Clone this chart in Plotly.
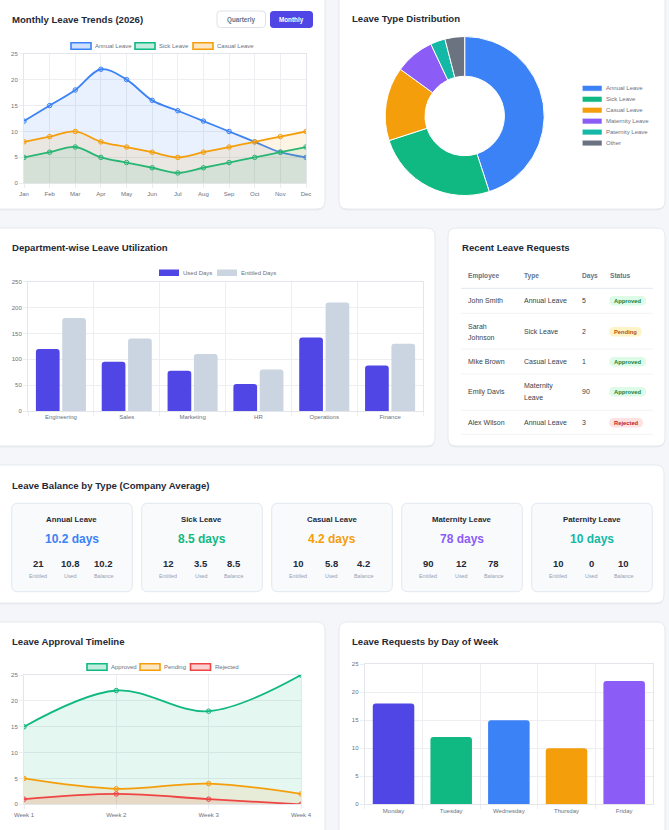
import plotly.graph_objects as go

W, H = 669, 830
FONT = "Liberation Sans, Arial, sans-serif"
TITLE_C = "#1f2937"
TICK_C = "#6b7280"
GRID_C = "#eceef1"

# ---------------- data ----------------
months = ["Jan", "Feb", "Mar", "Apr", "May", "Jun", "Jul", "Aug", "Sep", "Oct", "Nov", "Dec"]
annual_trend = [12, 15, 18, 22, 20, 16, 14, 12, 10, 8, 6, 5]
sick_trend = [5, 6, 7, 5, 4, 3, 2, 3, 4, 5, 6, 7]
casual_trend = [8, 9, 10, 8, 7, 6, 5, 6, 7, 8, 9, 10]

leave_types = ["Annual Leave", "Sick Leave", "Casual Leave", "Maternity Leave", "Paternity Leave", "Other"]
leave_share = [45, 25, 15, 8, 3, 4]
leave_colors = ["#3b82f6", "#10b981", "#f59e0b", "#8b5cf6", "#14b8a6", "#6b7280"]

departments = ["Engineering", "Sales", "Marketing", "HR", "Operations", "Finance"]
used_days = [120, 95, 78, 52, 142, 88]
entitled_days = [180, 140, 110, 80, 210, 130]

table_header = ["Employee", "Type", "Days", "Status"]
req_employee = [["John Smith"], ["Sarah", "Johnson"], ["Mike Brown"], ["Emily Davis"], ["Alex Wilson"]]
req_type = [["Annual Leave"], ["Sick Leave"], ["Casual Leave"], ["Maternity", "Leave"], ["Annual Leave"]]
req_days = ["5", "2", "1", "90", "3"]
req_status = ["Approved", "Pending", "Approved", "Approved", "Rejected"]

bal_types = ["Annual Leave", "Sick Leave", "Casual Leave", "Maternity Leave", "Paternity Leave"]
bal_entitled = ["21", "12", "10", "90", "10"]
bal_used = ["10.8", "3.5", "5.8", "12", "0"]
bal_balance = ["10.2", "8.5", "4.2", "78", "10"]
bal_colors = ["#3b82f6", "#10b981", "#f59e0b", "#8b5cf6", "#14b8a6"]

weeks = ["Week 1", "Week 2", "Week 3", "Week 4"]
approved = [15, 22, 18, 25]
pending = [5, 3, 4, 2]
rejected = [1, 2, 1, 0]

days_of_week = ["Monday", "Tuesday", "Wednesday", "Thursday", "Friday"]
day_requests = [18, 12, 15, 10, 22]
day_colors = ["#4f46e5", "#10b981", "#3b82f6", "#f59e0b", "#8b5cf6"]

# ---------------- helpers ----------------
def px(x):
    return x / W

def py(y):
    return 1 - y / H

shapes = []
annots = []

def rpath(x0, y0, x1, y1, r):
    def P(x, y):
        return f"{px(x):.5f},{py(y):.5f}"
    return (f"M {P(x0 + r, y0)} L {P(x1 - r, y0)} Q {P(x1, y0)} {P(x1, y0 + r)} "
            f"L {P(x1, y1 - r)} Q {P(x1, y1)} {P(x1 - r, y1)} L {P(x0 + r, y1)} "
            f"Q {P(x0, y1)} {P(x0, y1 - r)} L {P(x0, y0 + r)} Q {P(x0, y0)} {P(x0 + r, y0)} Z")

def rrect(x0, y0, x1, y1, r, fill, line="rgba(0,0,0,0)", lw=0, layer="below"):
    shapes.append(dict(type="path", path=rpath(x0, y0, x1, y1, r), xref="paper", yref="paper",
                       fillcolor=fill, line=dict(color=line, width=lw), layer=layer))

def rect(x0, y0, x1, y1, fill, line="rgba(0,0,0,0)", lw=0, layer="above"):
    shapes.append(dict(type="rect", xref="paper", yref="paper", x0=px(x0), x1=px(x1),
                       y0=py(y1), y1=py(y0), fillcolor=fill, line=dict(color=line, width=lw), layer=layer))

def hline(x0, x1, y, color, lw=1):
    shapes.append(dict(type="line", xref="paper", yref="paper", x0=px(x0), x1=px(x1),
                       y0=py(y), y1=py(y), line=dict(color=color, width=lw), layer="below"))

def text(x, y, s, size=6, color=TICK_C, anchor="left", bold=False):
    if bold:
        s = f"<b>{s}</b>"
    annots.append(dict(x=px(x), y=py(y), xref="paper", yref="paper", text=s, showarrow=False,
                       xanchor=anchor, yanchor="middle", font=dict(size=size, color=color, family=FONT),
                       borderpad=0))

def card(x0, y0, x1, y1):
    rrect(x0, y0 + 1, x1, y1 + 1.5, 8, "rgba(15,23,42,0.05)")
    rrect(x0, y0, x1, y1, 8, "#ffffff", "#e6e9ee", 1)

# ---------------- cards ----------------
card(-10, -10, 325, 209)
card(339, -10, 665, 209)
card(-10, 228, 435, 446)
card(448, 228, 665, 446)
card(-10, 465, 664, 603)
card(-10, 622, 325, 845)
card(339, 622, 665, 845)

# titles
text(11, 19.5, "Monthly Leave Trends (2026)", 9.6, TITLE_C, bold=True)
text(351, 18.5, "Leave Type Distribution", 9.6, TITLE_C, bold=True)
text(11, 247.5, "Department-wise Leave Utilization", 9.6, TITLE_C, bold=True)
text(461, 247.5, "Recent Leave Requests", 9.6, TITLE_C, bold=True)
text(11, 485, "Leave Balance by Type (Company Average)", 9.6, TITLE_C, bold=True)
text(11, 641.5, "Leave Approval Timeline", 9.6, TITLE_C, bold=True)
text(351, 641.5, "Leave Requests by Day of Week", 9.6, TITLE_C, bold=True)

# buttons
rrect(217, 11, 265.5, 27.5, 3.5, "#ffffff", "#dfe3e9", 1, "above")
text(241.3, 19.5, "Quarterly", 6.3, "#64748b", "center", True)
rrect(270, 11, 313, 28, 3.5, "#4f46e5", "#4f46e5", 0, "above")
text(291.5, 19.5, "Monthly", 6.3, "#ffffff", "center", True)

# line legends (Chart.js style boxes)
def line_legend(items, y):
    for (x, label, color, fill) in items:
        rect(x, y - 3.3, x + 20, y + 3.3, fill, color, 1.6)
        text(x + 23, y, label, 6, TICK_C)

line_legend([(71, "Annual Leave", "#3b82f6", "rgba(59,130,246,0.25)"),
             (135, "Sick Leave", "#10b981", "rgba(16,185,129,0.25)"),
             (193, "Casual Leave", "#f59e0b", "rgba(245,158,11,0.25)")], 46)
line_legend([(87, "Approved", "#10b981", "rgba(16,185,129,0.25)"),
             (140, "Pending", "#f59e0b", "rgba(245,158,11,0.25)"),
             (190.5, "Rejected", "#ef4444", "rgba(239,68,68,0.25)")], 667)

# bar legend
rect(159, 269.5, 179, 276, "#4f46e5")
text(182, 272.7, "Used Days", 6, TICK_C)
rect(217, 269.5, 237, 276, "#cbd5e1")
text(240, 272.7, "Entitled Days", 6, TICK_C)

# donut legend
for i, (lab, col) in enumerate(zip(leave_types, leave_colors)):
    yy = 88.3 + i * 10.95
    rect(582.3, yy - 2.8, 602, yy + 2.8, col, "#ffffff", 0.5)
    text(605, yy, lab, 6, TICK_C)

# ---------------- table ----------------
col_x = [467, 523.3, 580.7, 609.3]
for cx, h in zip(col_x, table_header):
    text(cx, 275.7, h, 6.6, "#64748b", bold=True)
hline(461, 653, 288.3, "#e2e8f0", 1)
row_y = [300.7, 331.7, 361.7, 391.7, 422.7]
sep_y = [313.3, 349, 374, 410.3, 434.3]
for s in sep_y:
    hline(461, 653, s, "#f1f3f6", 1)
badge_style = {"Approved": ("#dcfce7", "#15803d", 36.7),
               "Pending": ("#fef3c7", "#b45309", 32.4),
               "Rejected": ("#fee2e2", "#b91c1c", 33.7)}
BODY_C = "#3a3f47"
for i in range(len(req_days)):
    y = row_y[i]
    for lines, cx in ((req_employee[i], col_x[0]), (req_type[i], col_x[1])):
        if len(lines) == 1:
            text(cx, y, lines[0], 7, BODY_C)
        else:
            text(cx, y - 5.3, lines[0], 7, BODY_C)
            text(cx, y + 5.3, lines[1], 7, BODY_C)
    text(col_x[2], y, req_days[i], 7, BODY_C)
    bg, fg, bw = badge_style[req_status[i]]
    x0, x1 = 609.3, 609.3 + bw
    rrect(x0, y - 4.7, x1, y + 4.7, 4.7, bg, "rgba(0,0,0,0)", 0, "above")
    text((x0 + x1) / 2, y + 0.3, req_status[i], 5.8, fg, "center", True)

# ---------------- balance cards ----------------
for i in range(len(bal_types)):
    x0 = 11.7 + i * 130
    x1 = x0 + 120.6
    cx = (x0 + x1) / 2
    rrect(x0, 503.3, x1, 591.7, 6, "#f8fafc", "#e2e8f0", 1)
    text(cx, 519.5, bal_types[i], 7.8, TITLE_C, "center", True)
    text(cx, 539, bal_balance[i] + " days", 12, bal_colors[i], "center", True)
    for off, val, lab in ((-33.8, bal_entitled[i], "Entitled"), (-1, bal_used[i], "Used"),
                          (31.8, bal_balance[i], "Balance")):
        text(cx + off, 563.7, val, 9.5, TITLE_C, "center", True)
        text(cx + off, 576.2, lab, 5.4, "#94a3b8", "center")

# ---------------- traces ----------------
fig = go.Figure()

def area(x, y, color, fill, xa, ya):
    fig.add_trace(go.Scatter(x=x, y=y, mode="lines+markers", xaxis=xa, yaxis=ya,
                             line=dict(color=color, width=1.8, shape="spline", smoothing=1.0),
                             marker=dict(size=4.5, color=fill, line=dict(color=color, width=1)),
                             fill="tozeroy", fillcolor=fill, showlegend=False, hoverinfo="skip"))

mi = list(range(len(months)))
area(mi, annual_trend, "#3b82f6", "rgba(59,130,246,0.11)", "x", "y")
area(mi, sick_trend, "#10b981", "rgba(16,185,129,0.11)", "x", "y")
area(mi, casual_trend, "#f59e0b", "rgba(245,158,11,0.11)", "x", "y")

wi = list(range(len(weeks)))
area(wi, approved, "#10b981", "rgba(16,185,129,0.11)", "x3", "y3")
area(wi, pending, "#f59e0b", "rgba(245,158,11,0.11)", "x3", "y3")
area(wi, rejected, "#ef4444", "rgba(239,68,68,0.11)", "x3", "y3")

fig.add_trace(go.Bar(x=departments, y=used_days, xaxis="x2", yaxis="y2", name="Used Days",
                     marker=dict(color="#4f46e5", cornerradius=3, line=dict(width=0)),
                     showlegend=False, hoverinfo="skip"))
fig.add_trace(go.Bar(x=departments, y=entitled_days, xaxis="x2", yaxis="y2", name="Entitled Days",
                     marker=dict(color="#cbd5e1", cornerradius=3, line=dict(width=0)),
                     showlegend=False, hoverinfo="skip"))
fig.add_trace(go.Bar(x=days_of_week, y=day_requests, xaxis="x4", yaxis="y4",
                     width=0.72, offset=-0.36,
                     marker=dict(color=day_colors, cornerradius=3, line=dict(width=0)),
                     showlegend=False, hoverinfo="skip"))

cxp, cyp, R = 464.7, 116, 79.5
fig.add_trace(go.Pie(labels=leave_types, values=leave_share, hole=0.5, sort=False,
                     direction="clockwise", rotation=0, textinfo="none",
                     marker=dict(colors=leave_colors, line=dict(color="#ffffff", width=1)),
                     domain=dict(x=[px(cxp - R), px(cxp + R)], y=[py(cyp + R), py(cyp - R)]),
                     showlegend=False, hoverinfo="skip"))

tickfont = dict(size=6, color=TICK_C, family=FONT)
def xax(domain, anchor, **kw):
    d = dict(domain=domain, anchor=anchor, showgrid=True, gridcolor=GRID_C, gridwidth=1,
             zeroline=False, showline=True, linecolor="#e3e6ea", linewidth=1, mirror=True,
             ticks="outside", ticklen=4, tickcolor=GRID_C, tickfont=tickfont, fixedrange=True,
             automargin=False)
    d.update(kw)
    return d

def yax(domain, anchor, rng, dtick):
    return dict(domain=domain, anchor=anchor, range=rng, dtick=dtick, showgrid=True,
                gridcolor=GRID_C, gridwidth=1, zeroline=False, showline=True,
                linecolor="#e3e6ea", linewidth=1, mirror=True, ticks="outside", ticklen=4,
                tickcolor=GRID_C, tickfont=tickfont, fixedrange=True, automargin=False)

fig.update_layout(
    width=W, height=H, margin=dict(l=0, r=0, t=0, b=0, pad=0, autoexpand=False),
    paper_bgcolor="#f4f6f9", plot_bgcolor="rgba(0,0,0,0)",
    font=dict(family=FONT),
    barmode="group", bargap=0.2, bargroupgap=0.1,
    showlegend=False,
    xaxis=xax([px(24), px(306)], "y", range=[0, 11], tickmode="array", tickvals=mi, ticktext=months),
    yaxis=yax([py(183.3), py(53.7)], "x", [0, 25], 5),
    xaxis2=xax([px(28), px(423)], "y2", type="category", tickson="boundaries"),
    yaxis2=yax([py(411), py(281.7)], "x2", [0, 250], 50),
    xaxis3=xax([px(24), px(301)], "y3", range=[0, 3], tickmode="array", tickvals=wi, ticktext=weeks),
    yaxis3=yax([py(804.3), py(675)], "x3", [0, 25], 5),
    xaxis4=xax([px(364.7), px(653)], "y4", type="category", tickson="boundaries"),
    yaxis4=yax([py(804.3), py(664.3)], "x4", [0, 25], 5),
    shapes=shapes, annotations=annots,
)

fig.write_html("out.html", config={"responsive": False, "displayModeBar": False},
               post_script="document.body.style.margin='0';document.body.style.overflow='hidden';")
